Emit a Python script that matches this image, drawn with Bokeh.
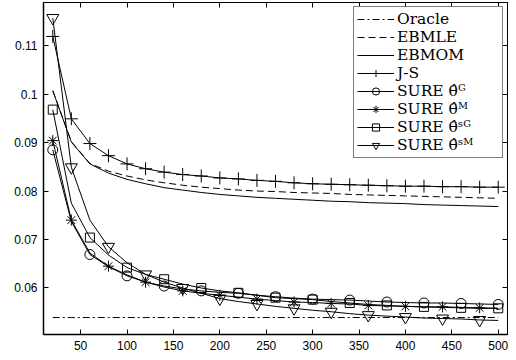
from bokeh.plotting import figure
from bokeh.models import Range1d, LinearAxis, FixedTicker
from bokeh.embed import file_html
from bokeh.resources import INLINE

n = [20, 40, 60, 80, 100, 120, 140, 160, 180, 200, 220, 240, 260,
     280, 300, 320, 340, 360, 380, 400, 420, 440, 460, 480, 500]

oracle = [0.0539, 0.0539, 0.0539, 0.0539, 0.0539, 0.0539, 0.0539, 0.0539, 0.0539,
          0.0539, 0.0539, 0.0539, 0.0539, 0.0539, 0.0539, 0.0539, 0.0539, 0.0539,
          0.0539, 0.0539, 0.0539, 0.0539, 0.0539, 0.0539, 0.0539]
ebmle = [0.1007, 0.0902, 0.0857, 0.0841, 0.0831, 0.0823, 0.0817, 0.0812, 0.0808,
         0.0805, 0.0802, 0.0800, 0.0799, 0.0797, 0.0796, 0.0795, 0.0793, 0.0792,
         0.0791, 0.0790, 0.0789, 0.0788, 0.0787, 0.0786, 0.0785]
ebmom = [0.1007, 0.0901, 0.0856, 0.0837, 0.0824, 0.0815, 0.0807, 0.0802, 0.0797,
         0.0793, 0.0790, 0.0787, 0.0785, 0.0783, 0.0781, 0.0779, 0.0778, 0.0776,
         0.0775, 0.0774, 0.0772, 0.0771, 0.0770, 0.0769, 0.0768]
js = [0.1119, 0.0949, 0.0898, 0.0873, 0.0856, 0.0846, 0.0839, 0.0834, 0.0831,
      0.0827, 0.0825, 0.0822, 0.0820, 0.0817, 0.0815, 0.0814, 0.0813, 0.0812,
      0.0811, 0.0810, 0.0810, 0.0809, 0.0809, 0.0808, 0.0808]
sure_g = [0.0885, 0.0737, 0.0669, 0.0644, 0.0625, 0.0612, 0.0604, 0.0598, 0.0594,
          0.0591, 0.0589, 0.0585, 0.0582, 0.0579, 0.0577, 0.0576, 0.0575, 0.0573,
          0.0571, 0.0570, 0.0569, 0.0569, 0.0568, 0.0567, 0.0566]
sure_m = [0.0904, 0.0740, 0.0672, 0.0645, 0.0627, 0.0612, 0.0602, 0.0594, 0.0589,
          0.0585, 0.0581, 0.0577, 0.0574, 0.0571, 0.0570, 0.0568, 0.0567, 0.0564,
          0.0563, 0.0562, 0.0561, 0.0561, 0.0560, 0.0559, 0.0558]
sure_sg = [0.0968, 0.0775, 0.0704, 0.0668, 0.0642, 0.0628, 0.0618, 0.0608, 0.0600,
           0.0594, 0.0590, 0.0585, 0.0580, 0.0578, 0.0576, 0.0572, 0.0569, 0.0566,
           0.0564, 0.0562, 0.0561, 0.0560, 0.0559, 0.0558, 0.0558]
sure_sm = [0.1157, 0.0849, 0.0740, 0.0685, 0.0652, 0.0628, 0.0612, 0.0600, 0.0589,
           0.0578, 0.0572, 0.0567, 0.0562, 0.0558, 0.0554, 0.0551, 0.0547, 0.0544,
           0.0542, 0.0540, 0.0538, 0.0537, 0.0536, 0.0534, 0.0533]

# which samples carry a marker
marks_a = [0, 2, 4, 6, 8, 10, 12, 14, 16, 18, 20, 22, 24]
marks_b = [0, 1, 3, 5, 7, 9, 11, 13, 15, 17, 19, 21, 23]

x_ticks = [50, 100, 150, 200, 250, 300, 350, 400, 450, 500]
y_ticks = [0.06, 0.07, 0.08, 0.09, 0.1, 0.11]
y_labels = ["0.06", "0.07", "0.08", "0.09", "0.1", "0.11"]

THETA_HAT = "\u03b8\u0302"
labels = ["Oracle", "EBMLE", "EBMOM", "J-S",
          "SURE " + THETA_HAT + "\u1d33",
          "SURE " + THETA_HAT + "\u1d39",
          "SURE " + THETA_HAT + "\u02e2\u1d33",
          "SURE " + THETA_HAT + "\u02e2\u1d39"]

p = figure(width=516, height=360, output_backend="svg", toolbar_location=None,
           x_range=Range1d(10, 510), y_range=Range1d(0.0504, 0.1189),
           min_border_left=43, min_border_right=9, min_border_top=2,
           min_border_bottom=26)
p.background_fill_color = "white"
p.border_fill_color = "white"
p.outline_line_color = "black"
p.outline_line_width = 1
p.grid.visible = False

LW = 1.0
p.line(n, oracle, line_color="black", line_width=LW, line_dash="7 3 2 3",
       legend_label=labels[0])
p.line(n, ebmle, line_color="black", line_width=LW, line_dash="7 4",
       legend_label=labels[1])
p.line(n, ebmom, line_color="black", line_width=LW, legend_label=labels[2])
p.line(n, js, line_color="black", line_width=LW, legend_label=labels[3])
p.scatter(n, js, marker="cross", size=13, line_color="black", line_width=LW,
          legend_label=labels[3])

series = [(sure_g, "circle", 10, marks_a, labels[4]),
          (sure_m, "asterisk", 11, marks_b, labels[5]),
          (sure_sg, "square", 9, marks_a, labels[6]),
          (sure_sm, "inverted_triangle", 12, marks_b, labels[7])]
for ys, mk, sz, idx, lab in series:
    p.line(n, ys, line_color="black", line_width=LW, legend_label=lab)
    p.scatter([n[i] for i in idx], [ys[i] for i in idx], marker=mk, size=sz,
              line_color="black", fill_alpha=0, line_width=LW, legend_label=lab)

tick_font = "Liberation Sans"
for ax in (p.xaxis[0], p.yaxis[0]):
    ax.axis_line_color = "black"
    ax.axis_line_width = 1.5
    ax.major_tick_in = 5
    ax.major_tick_out = 0
    ax.minor_tick_line_color = None
    ax.major_tick_line_color = "black"
    ax.major_label_text_font = tick_font
    ax.major_label_text_font_size = "12px"
    ax.major_label_text_color = "black"
p.xaxis[0].ticker = FixedTicker(ticks=x_ticks)
p.xaxis[0].major_label_standoff = 6
p.yaxis[0].ticker = FixedTicker(ticks=y_ticks)
p.yaxis[0].major_label_overrides = {t: s for t, s in zip(y_ticks, y_labels)}
p.yaxis[0].major_label_standoff = 6

top = LinearAxis(ticker=FixedTicker(ticks=x_ticks))
right = LinearAxis(ticker=FixedTicker(ticks=y_ticks))
for ax in (top, right):
    ax.major_label_text_font_size = "0px"
    ax.major_label_text_color = None
    ax.major_label_standoff = 0
    ax.major_tick_in = 5
    ax.major_tick_out = 0
    ax.minor_tick_line_color = None
    ax.axis_line_color = "black"
    ax.major_tick_line_color = "black"
p.add_layout(top, "above")
p.add_layout(right, "right")

lg = p.legend[0]
lg.location = "top_right"
lg.margin = 4
lg.padding = 3
lg.spacing = 0
lg.label_height = 18
lg.glyph_height = 18
lg.glyph_width = 37
lg.label_standoff = 3
lg.label_width = 102
lg.label_text_font = "DejaVu Serif"
lg.label_text_font_size = "15.5px"
lg.label_text_color = "black"
lg.border_line_color = "black"
lg.border_line_width = 1
lg.background_fill_color = "white"
lg.background_fill_alpha = 1

open("out.html", "w").write(file_html(p, INLINE))
